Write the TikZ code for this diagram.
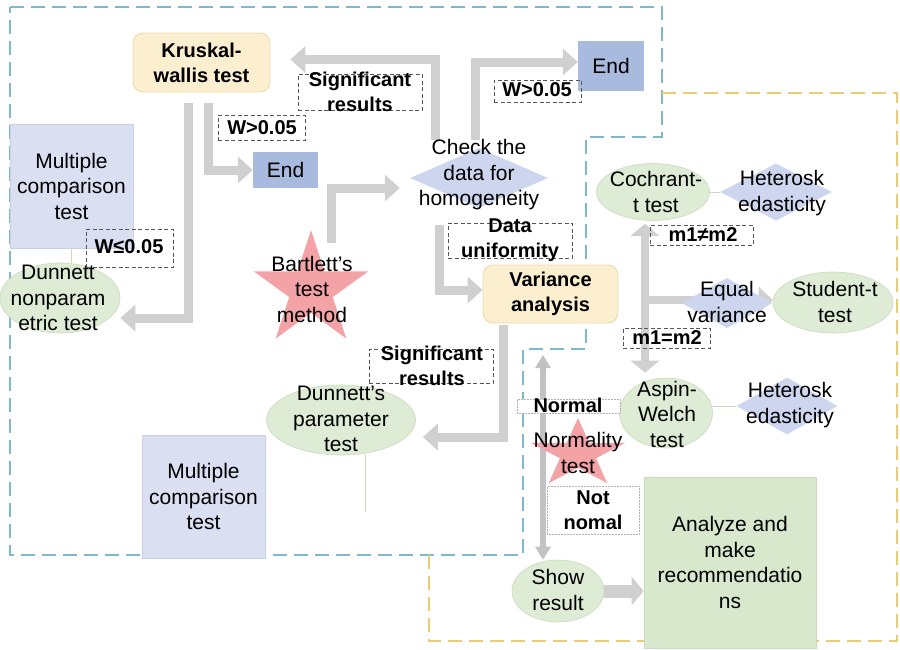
\documentclass[tikz,border=0pt]{standalone}
\usepackage{fontspec}
\setmainfont{Liberation Sans}
\usetikzlibrary{shapes.geometric,arrows.meta,calc,backgrounds}
\definecolor{barc}{HTML}{D0D0D0}
\definecolor{barc2}{HTML}{C2C2C2}
\definecolor{ylw}{HTML}{FCEFD0}
\definecolor{ylwd}{HTML}{EBD8A8}
\definecolor{lav}{HTML}{DADFF1}
\definecolor{lavd}{HTML}{C9D0E8}
\definecolor{endb}{HTML}{A9BADF}
\definecolor{grn}{HTML}{DEEBD5}
\definecolor{grnd}{HTML}{C8DBBA}
\definecolor{grn2}{HTML}{D7E8CD}
\definecolor{dia}{HTML}{CDD6EE}
\definecolor{strc}{HTML}{F3A3A5}
\definecolor{frb}{HTML}{7DB9CB}
\definecolor{fry}{HTML}{E9CB78}
\definecolor{lbl}{HTML}{555555}
\begin{document}
\begin{tikzpicture}[x=1pt,y=-1pt,
  txt/.style={font=\fontsize{21}{25.5}\selectfont, align=center, inner sep=0pt},
  btxt/.style={font=\fontsize{20}{25}\selectfont\bfseries, align=center, inner sep=0pt},
  ybox/.style={rectangle, rounded corners=10pt, fill=ylw, draw=ylwd, line width=0.8pt, btxt},
  lbox/.style={rectangle, fill=lav, draw=lavd, line width=0.6pt, txt},
  ebox/.style={rectangle, fill=endb, txt},
  gbox/.style={rectangle, fill=grn2, draw=grnd, line width=0.6pt, txt},
  oval/.style={ellipse, fill=grn, draw=grnd, line width=0.6pt, inner sep=0pt},
  dmd/.style={diamond, fill=dia, inner sep=0pt},
  dlab/.style={rectangle, draw=lbl, line width=0.9pt, dash pattern=on 4pt off 2.5pt, inner sep=0pt},
  olab/.style={rectangle, draw=gray!60, fill=white, line width=0.5pt, densely dotted, inner sep=0pt},
  blk/.style={draw=barc, line width=9pt, -{Triangle[width=26pt,length=15pt]}},
  bar/.style={draw=barc, line width=8pt},
  thinl/.style={draw=grnd, line width=0.8pt},
  frame/.style={line width=1.1pt, dash pattern=on 14pt off 7pt}
]
\useasboundingbox (0,0) rectangle (900,649);

% rectangles
\node[ybox, minimum width=137pt, minimum height=59pt] (kw) at (201.5,62.5) {Kruskal-\\wallis test};
\node[ybox, minimum width=135pt, minimum height=58pt] (var) at (550.5,294) {Variance\\analysis};
\node[lbox, minimum width=123pt, minimum height=124pt] (mc1) at (71.5,186) {Multiple\\comparison\\test};
\node[lbox, minimum width=123pt, minimum height=123pt] (mc2) at (203.5,496.5) {Multiple\\comparison\\test};
\node[ebox, minimum width=65pt, minimum height=36pt] (end1) at (285.5,170) {End};
\node[ebox, minimum width=66pt, minimum height=50pt] (end2) at (611,66) {End};
\node[gbox, minimum width=172pt, minimum height=171pt] (ana) at (730,562.5) {Analyze and\\make\\recommendatio\\ns};

% ellipses
\node[oval, minimum width=120pt, minimum height=70pt] (dnp) at (60,298) {};
\node[txt] (dnpt) at (58,298) {Dunnett\\nonparam\\etric test};
\node[oval, minimum width=149pt, minimum height=70pt] (dpar) at (341,420) {};
\node[txt] (dpart) at (341,419) {Dunnett's\\parameter\\test};
\node[oval, minimum width=113pt, minimum height=57pt] (coch) at (653,192) {};
\node[txt] (cocht) at (656,192) {Cochrant-\\t test};
\node[oval, minimum width=120pt, minimum height=61pt] (stu) at (833,302.5) {};
\node[txt] (stut) at (835,302) {Student-t\\test};
\node[oval, minimum width=93pt, minimum height=70pt] (asp) at (666,413) {};
\node[txt] (aspt) at (667,414) {Aspin-\\Welch\\test};
\node[oval, minimum width=92pt, minimum height=62pt] (shw) at (558,591) {};
\node[txt] (shwt) at (558,590) {Show\\result};

% diamonds
\node[dmd, minimum width=138pt, minimum height=60pt] (chk) at (479,178) {};
\node[txt] (chkt) at (479,175) {Check the\\data for\\homogeneity};
\node[dmd, minimum width=112pt, minimum height=57pt] (het1) at (776,192) {};
\node[txt] (het1t) at (782,193) {Heterosk\\edasticity};
\node[dmd, minimum width=91pt, minimum height=50pt] (eqv) at (727,303) {};
\node[txt] (eqvt) at (727,302) {Equal\\variance};
\node[dmd, minimum width=101pt, minimum height=57pt] (het2) at (787,406) {};
\node[txt] (het2t) at (790,405) {Heterosk\\edasticity};

% stars
\coordinate (bst) at (311,290);
\fill[strc, shift={(311,290)}] (-90:60) -- (-54:22.9) -- (-18:60) -- (18:22.9) -- (54:60) -- (90:22.9) -- (126:60) -- (162:22.9) -- (198:60) -- (234:22.9) -- cycle;
\node[txt] (bstt) at (312,289) {Bartlett's\\test\\method};
\coordinate (nst) at (578,454);
\fill[strc, shift={(578,454)}, xscale=1.38] (-90:36) -- (-54:13.75) -- (-18:36) -- (18:13.75) -- (54:36) -- (90:13.75) -- (126:36) -- (162:13.75) -- (198:36) -- (234:13.75) -- cycle;

% labels
\node[dlab, minimum width=124pt, minimum height=36pt] (sig1) at (360,92) {};
\node[btxt] (sig1t) at (360,91.5) {Significant\\results};
\node[dlab, minimum width=87pt, minimum height=25pt] (w1) at (261.5,127.5) {};
\node[btxt] (w1t) at (262,128) {W>0.05};
\node[dlab, minimum width=87pt, minimum height=38pt] (w2) at (129.5,248) {};
\node[btxt] (w2t) at (129,247) {W≤0.05};
\node[dlab, minimum width=87pt, minimum height=22pt] (w3) at (537.5,91) {};
\node[btxt] (w3t) at (537,90) {W>0.05};
\node[dlab, minimum width=124pt, minimum height=35pt] (du) at (510,240.5) {};
\node[btxt] (dut) at (510,240) {Data\\uniformity};
\node[dlab, minimum width=124pt, minimum height=34pt] (sig2) at (431,366) {};
\node[btxt] (sig2t) at (432,366) {Significant\\results};
\node[dlab, minimum width=103pt, minimum height=20pt] (m1) at (701.5,235) {};
\node[btxt] (m1t) at (703,235) {m1≠m2};
\node[dlab, minimum width=87pt, minimum height=20pt] (m2) at (666.5,338) {};
\node[btxt] (m2t) at (667,338) {m1=m2};
\node[olab, minimum width=103pt, minimum height=14pt] (nor) at (568.5,406) {};
\node[btxt] (nort) at (568,405) {Normal};
\node[olab, minimum width=92pt, minimum height=48pt] (nn) at (593,510) {};
\node[btxt] (nnt) at (593,510) {Not\\nomal};
\node[txt] (nstt) at (578,453) {Normality\\test};

\begin{pgfonlayer}{background}
% frames
\draw[frame, frb] (10,7) -- (662,7) -- (662,137) -- (586,137) -- (586,349) -- (523,349) -- (523,555) -- (10,555) -- cycle;
\draw[frame, fry] (662,93) -- (897,93) -- (897,641) -- (429,641) -- (429,555);
% block arrows
\draw[blk] ($(kw.south)+(-13.5,11)$) |- ($(dnp.east)+(0,20)$);
\draw[blk] ($(kw.south)+(6.5,11)$) |- (end1.west);
\draw[blk] ($(chk.north)+(-44,-8)$) |- ($(kw.east)+(20,-3)$);
\draw[blk] ($(chk.north)+(-4,-8)$) |- ($(end2.west)+(0,-4)$);
\draw[blk] ($(bst)+(20,-47)$) |- ($(chk.west)+(-10,10)$);
\draw[blk] ($(chk.south)+(-40,17)$) |- ($(var.west)+(0,-4)$);
\draw[blk] ($(var.south)+(-47.5,2)$) |- ($(dpar.east)+(7,17)$);
\coordinate (tb) at (645,300);
\draw[bar, {Triangle[width=28pt,length=12pt]}-{Triangle[width=28pt,length=12pt]}] ($(coch.south -| tb)+(0,3)$) -- ($(asp.north -| tb)+(0,-5)$);
\draw[bar, -{Triangle[width=26pt,length=14pt]}] (tb) -- (tb -| stu.west);
\coordinate (ntop) at (543,355);
\draw[draw=barc2, line width=6pt, {Triangle[width=15pt,length=13pt]}-{Triangle[width=15pt,length=13pt]}] (ntop) -- (ntop |- shw.north);
\draw[draw=barc, line width=13pt, -{Triangle[width=28pt,length=12pt]}] (shw.east) -- (shw.east -| ana.west);
% thin connectors
\draw[thinl] (mc1.south) -- (mc1.south |- dnp.north);
\coordinate (dl) at (365,512);
\draw[thinl] (dl |- dpar.south) -- (dl);
\draw[thinl] (coch) -- (het1);
\draw[thinl] (het2.west -| asp) -- (het2);
\end{pgfonlayer}
\end{tikzpicture}
\end{document}
